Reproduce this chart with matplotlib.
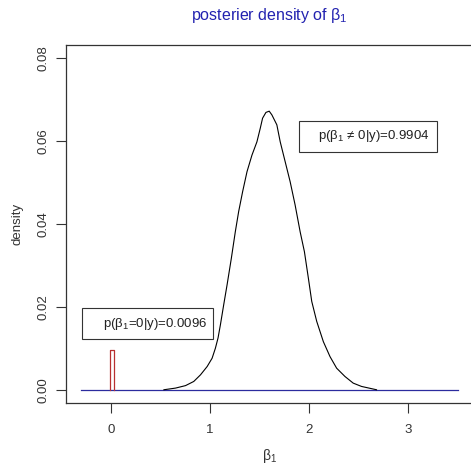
import numpy as np
import matplotlib.pyplot as plt
from matplotlib.patches import Rectangle

plt.rcParams['font.family'] = ['Liberation Sans', 'DejaVu Sans']
plt.rcParams['mathtext.fontset'] = 'custom'
plt.rcParams['mathtext.rm'] = 'Liberation Sans'
plt.rcParams['mathtext.it'] = 'Liberation Sans'
plt.rcParams['mathtext.bf'] = 'Liberation Sans:bold'

# posterior density of beta1
beta = [0.536, 0.653, 0.754, 0.837, 0.905, 0.972, 1.022, 1.055, 1.082, 1.106,
        1.139, 1.173, 1.216, 1.256, 1.290, 1.330, 1.374, 1.424, 1.474, 1.508,
        1.531, 1.565, 1.598, 1.625, 1.675, 1.709, 1.759, 1.809, 1.859, 1.910,
        1.953, 1.993, 2.027, 2.077, 2.144, 2.211, 2.278, 2.362, 2.445, 2.529, 2.680]
dens = [0.0, 0.0004, 0.0010, 0.0020, 0.0036, 0.0056, 0.0076, 0.0100, 0.0125, 0.0157,
        0.0205, 0.0253, 0.0317, 0.0381, 0.0430, 0.0478, 0.0526, 0.0566, 0.0598, 0.0631,
        0.0655, 0.0669, 0.0672, 0.0663, 0.0639, 0.0598, 0.0550, 0.0502, 0.0446, 0.0381,
        0.0333, 0.0269, 0.0213, 0.0165, 0.0116, 0.0080, 0.0052, 0.0032, 0.0016, 0.0008, 0.0]

# point mass at zero
p_zero = 0.0096
p_nonzero = 0.9904
bar_x = [-0.01, 0.03]

# baseline range
base_x = [-0.3, 3.5]

fig = plt.figure(figsize=(4.71, 4.67), dpi=100)
ax = fig.add_axes([0.140, 0.137, 0.864, 0.767])

ax.plot(base_x, [0, 0], color='#2b2b9e', lw=0.9)
ax.plot(beta, dens, color='black', lw=0.8)
ax.plot([bar_x[0], bar_x[0], bar_x[1], bar_x[1]], [0, p_zero, p_zero, 0],
        color='#b83030', lw=0.9)

ax.set_xlim(-0.452, 3.652)
ax.set_ylim(-0.0032, 0.0832)
ax.set_xticks([0, 1, 2, 3])
ax.set_yticks([0, 0.02, 0.04, 0.06, 0.08])
ax.set_yticklabels(['0.00', '0.02', '0.04', '0.06', '0.08'], rotation=90, va='center')
ax.tick_params(length=7, width=0.8, labelsize=9.5, color='#333333', labelcolor='#333333')
ax.tick_params(axis='x', pad=8)
ax.tick_params(axis='y', pad=5)
for s in ax.spines.values():
    s.set_linewidth(0.9)
    s.set_color('#333333')

ax.set_xlabel(r'$\mathrm{\beta}_1$', fontsize=10, color='#333333', labelpad=8)
ax.set_ylabel('density', fontsize=9.5, color='#333333', labelpad=10)
fig.text(0.572, 0.966, r'posterier density of $\mathrm{\beta}_1$', ha='center', va='center',
         fontsize=11.5, color='#2222b0')

# annotation boxes
ax.add_patch(Rectangle((0.5725, 0.702), 0.339, 0.0866, transform=ax.transAxes,
                       fill=False, lw=0.8, edgecolor='#333333'))
ax.text(0.8943, 0.746, r'p($\mathrm{\beta}_1$ ≠ 0|y)=%.4f' % p_nonzero, transform=ax.transAxes,
        ha='right', va='center', fontsize=9.5, color='#222222')
ax.add_patch(Rectangle((0.0386, 0.1788), 0.3233, 0.0866, transform=ax.transAxes,
                       fill=False, lw=0.8, edgecolor='#333333'))
ax.text(0.3464, 0.222, r'p($\mathrm{\beta}_1$=0|y)=%.4f' % p_zero, transform=ax.transAxes,
        ha='right', va='center', fontsize=9.5, color='#222222')

fig.savefig('out.png', dpi=100)
